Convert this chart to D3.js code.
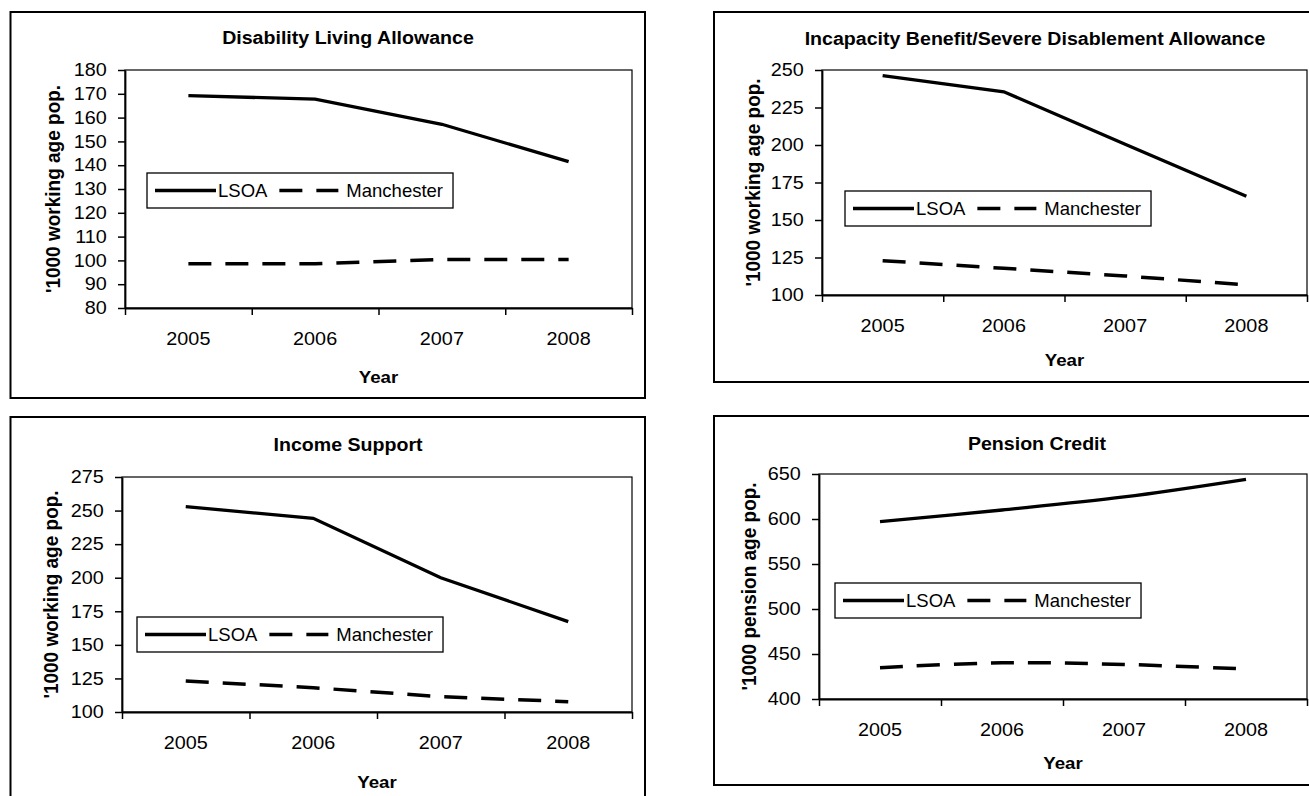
<!DOCTYPE html>
<html>
<head>
<meta charset="utf-8">
<script src="https://cdn.jsdelivr.net/npm/d3@7"></script>
<style>
body { margin: 0; background: #fff; }
</style>
</head>
<body>
<div id="chart"></div>
<script>
// values
const years = ["2005", "2006", "2007", "2008"];
const seriesNames = ["LSOA", "Manchester"];

const dlaLsoa = [169.2, 167.8, 157.2, 141.5];
const dlaManchester = [98.6, 98.6, 100.4, 100.4];
const ibLsoa = [246.2, 235.5, 200.5, 165.8];
const ibManchester = [122.9, 117.8, 112.7, 106.7];
const isLsoa = [252.9, 244.2, 200.0, 167.3];
const isManchester = [123.1, 118.1, 111.4, 107.7];
const pcLsoa = [597.0, 610.0, 624.5, 644.1];
const pcManchester = [434.8, 440.2, 438.4, 433.3];

const titles = ["Disability Living Allowance", "Incapacity Benefit/Severe Disablement Allowance", "Income Support", "Pension Credit"];
const yTitles = ["'1000 working age pop.", "'1000 working age pop.", "'1000 working age pop.", "'1000 pension age pop."];
const xTitle = "Year";

const dlaTicks = [80, 90, 100, 110, 120, 130, 140, 150, 160, 170, 180];
const ibTicks = [100, 125, 150, 175, 200, 225, 250];
const isTicks = [100, 125, 150, 175, 200, 225, 250, 275];
const pcTicks = [400, 450, 500, 550, 600, 650];

const lsoa = [dlaLsoa, ibLsoa, isLsoa, pcLsoa];
const manchester = [dlaManchester, ibManchester, isManchester, pcManchester];
const yTicks = [dlaTicks, ibTicks, isTicks, pcTicks];

// where each panel sits on the page
const panels = [
    {box: [10.5, 12, 645, 398], plot: [125, 70, 632, 308], titleX: 348, titleY: 38, yTitleX: 52, yearY: 377, legend: [147, 173], smooth: false},
    {box: [714, 12, 1330, 382], plot: [822, 70, 1307, 295], titleX: 1035, titleY: 39, yTitleX: 752, yearY: 360, legend: [845, 191], smooth: false},
    {box: [10.5, 417, 645, 820], plot: [122, 477, 632, 712], titleX: 348, titleY: 445, yTitleX: 50, yearY: 782, legend: [137, 617], smooth: false},
    {box: [714, 416, 1330, 785], plot: [819, 474, 1307, 699], titleX: 1037, titleY: 444, yTitleX: 748, yearY: 763, legend: [835, 583], smooth: true}
];

const FONT = '"Liberation Sans", Arial, Helvetica, sans-serif';
const W = 1309, H = 796;

let svg = d3.select("#chart")
    .append("svg")
    .attr("width", W)
    .attr("height", H)
    .style("display", "block")
    .style("font-family", FONT);

svg.append("rect").attr("width", W).attr("height", H).attr("fill", "#fff");

panels.forEach(function(p, i) {
    let g = svg.append("g");

    g.append("rect")
        .attr("x", p.box[0])
        .attr("y", p.box[1])
        .attr("width", p.box[2] - p.box[0])
        .attr("height", p.box[3] - p.box[1])
        .attr("fill", "none")
        .attr("stroke", "#000")
        .attr("stroke-width", 2);

    let [px0, py0, px1, py1] = p.plot;

    let x = d3.scaleBand().domain(years).range([px0, px1]);
    let xb = d3.scaleLinear().domain([0, years.length]).range([px0, px1]);
    let y = d3.scaleLinear().domain(d3.extent(yTicks[i])).range([py1, py0]);

    // plot area frame
    g.append("rect")
        .attr("x", px0)
        .attr("y", py0)
        .attr("width", px1 - px0)
        .attr("height", py1 - py0)
        .attr("fill", "none")
        .attr("stroke", "#000")
        .attr("stroke-width", 1.2);

    g.append("g")
        .attr("transform", `translate(${px0},0)`)
        .call(d3.axisLeft(y).tickValues(yTicks[i]).tickSizeInner(7).tickSizeOuter(0).tickPadding(9.5));

    // tick marks sit between the categories
    g.append("g")
        .attr("transform", `translate(0,${py1})`)
        .call(d3.axisBottom(xb).tickValues(d3.range(years.length + 1)).tickFormat("").tickSizeInner(7).tickSizeOuter(0));

    let xl = g.append("g")
        .attr("transform", `translate(0,${py1})`)
        .call(d3.axisBottom(x).tickSize(0).tickPadding(24.5));
    xl.select(".domain").remove();

    g.selectAll(".domain").attr("stroke-width", 1.8);
    g.selectAll(".tick line").attr("stroke-width", 1.5);
    g.selectAll("g[font-family]").attr("font-family", FONT);
    g.selectAll(".tick text")
        .attr("font-size", 18)
        .attr("fill", "#000")
        .attr("transform", "scale(1.1,1)");

    let line = d3.line()
        .x((d, j) => x(years[j]) + x.bandwidth() / 2)
        .y(d => y(d));
    if (p.smooth) line.curve(d3.curveCatmullRom.alpha(0.5));

    g.append("path")
        .attr("d", line(lsoa[i]))
        .attr("fill", "none")
        .attr("stroke", "#000")
        .attr("stroke-width", 3.3);

    g.append("path")
        .attr("d", line(manchester[i]))
        .attr("fill", "none")
        .attr("stroke", "#000")
        .attr("stroke-width", 3.5)
        .attr("stroke-dasharray", "23,14");

    // titles
    g.append("text")
        .attr("transform", `translate(${p.titleX},${p.titleY}) scale(1.12,1)`)
        .attr("dy", "0.36em")
        .attr("text-anchor", "middle")
        .attr("font-weight", "bold")
        .attr("font-size", 17.5)
        .text(titles[i]);

    g.append("text")
        .attr("transform", `translate(${(px0 + px1) / 2},${p.yearY}) scale(1.1,1)`)
        .attr("dy", "0.36em")
        .attr("text-anchor", "middle")
        .attr("font-weight", "bold")
        .attr("font-size", 17)
        .text(xTitle);

    g.append("text")
        .attr("transform", `translate(${p.yTitleX},${(py0 + py1) / 2}) scale(1.1,1) rotate(-90)`)
        .attr("dy", "0.36em")
        .attr("text-anchor", "middle")
        .attr("font-weight", "bold")
        .attr("font-size", 19)
        .text(yTitles[i]);

    // legend
    let lh = 35;
    let lg = g.append("g").attr("transform", `translate(${p.legend[0]},${p.legend[1]})`);
    let lbox = lg.append("rect")
        .attr("height", lh)
        .attr("fill", "#fff")
        .attr("stroke", "#000")
        .attr("stroke-width", 1.3);

    let cx = 8;
    lg.append("line")
        .attr("x1", cx).attr("x2", cx + 61)
        .attr("y1", lh / 2).attr("y2", lh / 2)
        .attr("stroke", "#000")
        .attr("stroke-width", 3.3);
    cx += 63;
    let t1 = lg.append("text")
        .attr("x", cx)
        .attr("y", lh / 2)
        .attr("dy", "0.36em")
        .attr("font-size", 18.5)
        .text(seriesNames[0]);
    cx += t1.node().getComputedTextLength() + 12;
    lg.append("line")
        .attr("x1", cx).attr("x2", cx + 59)
        .attr("y1", lh / 2).attr("y2", lh / 2)
        .attr("stroke", "#000")
        .attr("stroke-width", 3.5)
        .attr("stroke-dasharray", "23,14");
    cx += 67;
    let t2 = lg.append("text")
        .attr("x", cx)
        .attr("y", lh / 2)
        .attr("dy", "0.36em")
        .attr("font-size", 18.5)
        .text(seriesNames[1]);
    cx += t2.node().getComputedTextLength() + 10;
    lbox.attr("width", cx);
});
</script>
</body>
</html>
